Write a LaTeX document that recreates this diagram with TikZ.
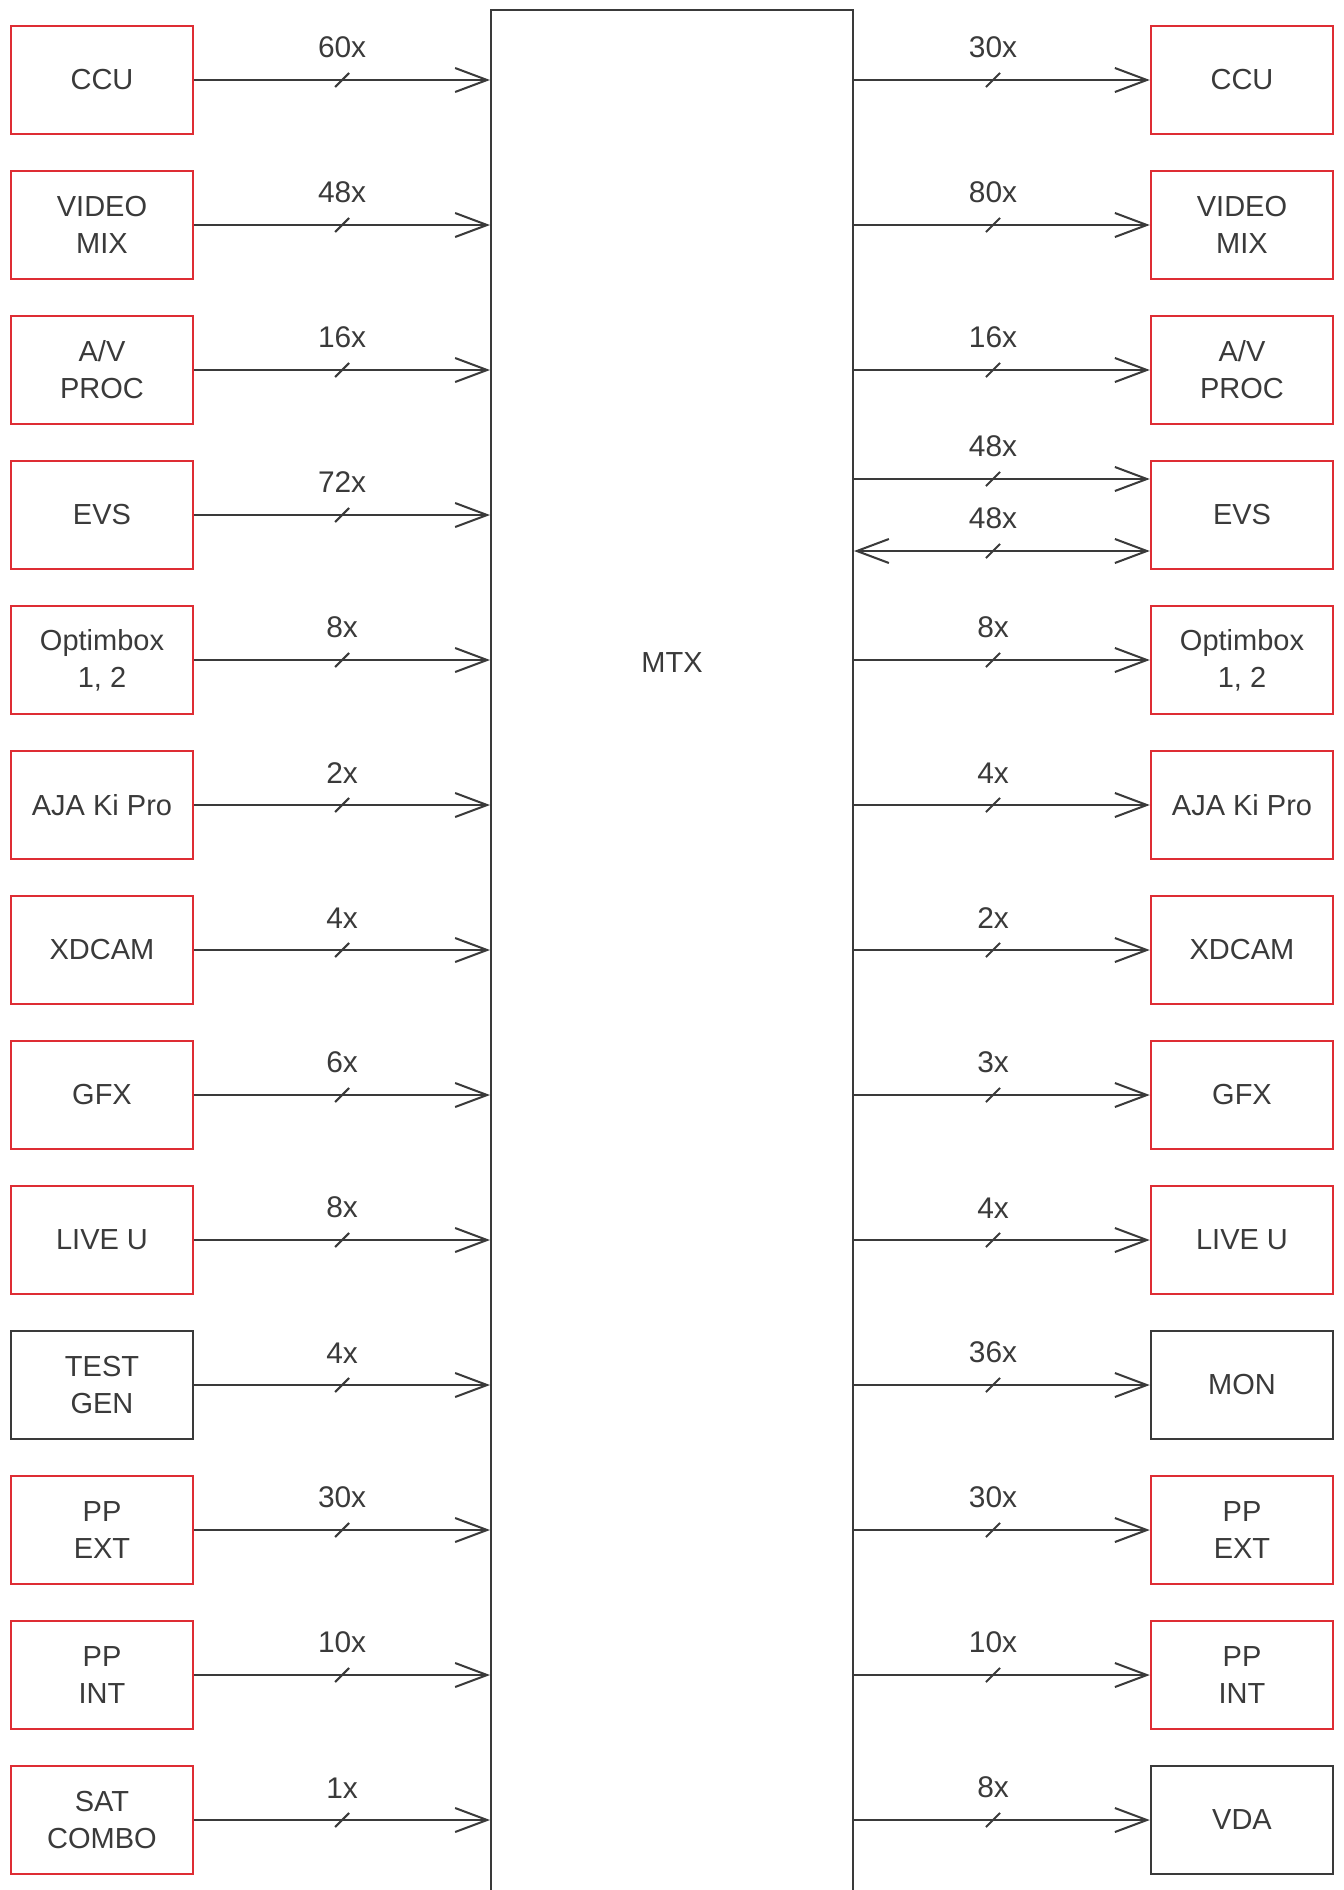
\documentclass[tikz,border=0pt]{standalone}
\usepackage{fontspec}
\setmainfont{Liberation Sans}
\usetikzlibrary{arrows.meta,decorations.markings}
\definecolor{boxred}{RGB}{222,45,52}
\definecolor{linegray}{RGB}{58,58,58}

\begin{document}
\begin{tikzpicture}[x=0.2mm, y=-0.2mm, every node/.style={text=linegray},
  box/.style={line width=1.4pt, minimum width=36.4mm, minimum height=21.6mm, inner sep=0pt,
    align=center, font=\fontsize{16.5}{21}\selectfont},
  link/.style={draw=linegray, line width=1.15pt, -{Straight Barb[length=6.4mm, width=4.8mm]}},
  tick/.style={postaction={decorate, decoration={markings,
    mark=at position #1 with {\draw[-, linegray, line width=1.15pt] (-4pt,-4pt) -- (4pt,4pt);}}}},
  cnt/.style={font=\fontsize{17}{20}\selectfont, inner sep=0pt, above=4.2mm}]
  \useasboundingbox (0,0) rectangle (1344,1890);

  % matrix in the middle
  \node[draw=linegray, line width=1.15pt, minimum width=72.4mm, minimum height=378mm, inner sep=0pt] (mtx) at (672,955) {};
  \node[font=\fontsize{16.5}{21}\selectfont] (mtxtxt) at (672,663) {MTX};

  % sources
  \foreach \i/\txt/\n/\col in {1/CCU/60x/boxred, 2/{VIDEO\\MIX}/48x/boxred, 3/{A/V\\PROC}/16x/boxred,
      4/EVS/72x/boxred, 5/{Optimbox\\1, 2}/8x/boxred, 6/AJA Ki Pro/2x/boxred, 7/XDCAM/4x/boxred,
      8/GFX/6x/boxred, 9/LIVE U/8x/boxred, 10/{TEST\\GEN}/4x/linegray, 11/{PP\\EXT}/30x/boxred,
      12/{PP\\INT}/10x/boxred, 13/{SAT\\COMBO}/1x/boxred}{
    \node[box, draw=\col] (L\i) at (102,{80+145*(\i-1)}) {\txt};
    \draw[link, tick=0.5] (L\i.east) -- (L\i.east -| mtx.west) node[pos=0.5, cnt] {\n};
  }

  % destinations
  \foreach \i/\txt/\col in {1/CCU/boxred, 2/{VIDEO\\MIX}/boxred, 3/{A/V\\PROC}/boxred,
      4/EVS/boxred, 5/{Optimbox\\1, 2}/boxred, 6/AJA Ki Pro/boxred, 7/XDCAM/boxred,
      8/GFX/boxred, 9/LIVE U/boxred, 10/MON/linegray, 11/{PP\\EXT}/boxred,
      12/{PP\\INT}/boxred, 13/VDA/linegray}{
    \node[box, draw=\col] (R\i) at (1242,{80+145*(\i-1)}) {\txt};
  }
  \foreach \i/\n in {1/30x, 2/80x, 3/16x, 5/8x, 6/4x, 7/2x, 8/3x, 9/4x, 10/36x, 11/30x, 12/10x, 13/8x}{
    \draw[link, tick=0.47] (R\i.west -| mtx.east) -- (R\i.west) node[pos=0.47, cnt] {\n};
  }
  \coordinate (evsin) at ([yshift=7.2mm]R4.west);
  \coordinate (evsio) at ([yshift=-7.2mm]R4.west);
  \draw[link, tick=0.47] (evsin -| mtx.east) -- (evsin) node[pos=0.47, cnt] {48x};
  \draw[link, tick=0.47, {Straight Barb[length=6.4mm, width=4.8mm]}-{Straight Barb[length=6.4mm, width=4.8mm]}]
    (evsio -| mtx.east) -- (evsio) node[pos=0.47, cnt] {48x};
\end{tikzpicture}
\end{document}
